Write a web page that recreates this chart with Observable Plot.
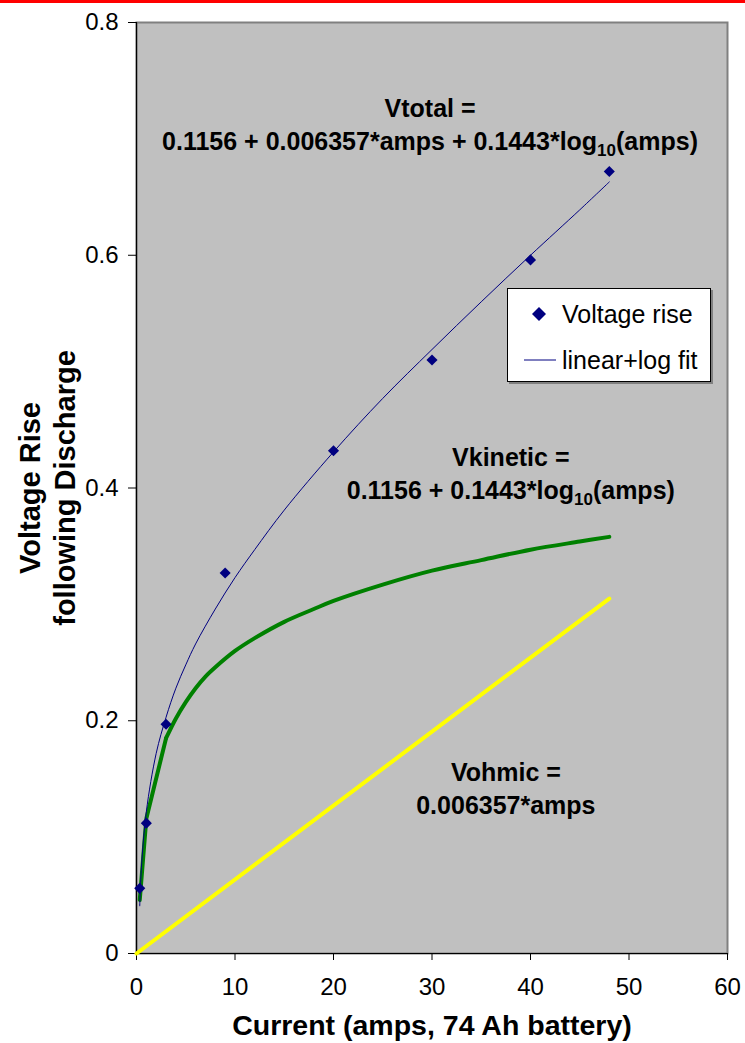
<!DOCTYPE html>
<html>
<head>
<meta charset="utf-8">
<script src="https://cdn.jsdelivr.net/npm/d3@7"></script>
<script src="https://cdn.jsdelivr.net/npm/@observablehq/plot@0.6"></script>
<style>
  html, body { margin: 0; padding: 0; background: white; }
  #wrap { position: relative; width: 745px; height: 1043px; font-family: Arial, "Liberation Sans", sans-serif; }
  #redline { position: absolute; left: 0; top: 0; width: 745px; height: 3px; background: #ff0000; }
  #legend { position: absolute; left: 507px; top: 288px; width: 202px; height: 92px; background: white;
            border: 1px solid #000; box-shadow: 2px 2px 0 #808080; }
</style>
</head>
<body>
<div id="wrap"><div id="redline"></div></div>
<script>
// Measured data points (Voltage rise)
const ampsMeasured = [0.33, 1, 3, 9, 20, 30, 40, 48];
const voltMeasured = [0.056, 0.112, 0.197, 0.327, 0.432, 0.510, 0.596, 0.672];

// linear+log fit curve
const ampsFit = [0.33, 0.5, 1, 2, 3, 4, 5, 6, 8, 10, 12, 15, 20, 25, 30, 35, 40, 45, 48];
const voltFit = [0.041, 0.074, 0.122, 0.172, 0.203, 0.228, 0.248, 0.266, 0.296, 0.323, 0.347, 0.381, 0.431, 0.477, 0.519, 0.560, 0.600, 0.639, 0.663];

// Vkinetic curve
const ampsKinetic = [0.33, 1, 3, 4, 5, 6, 7, 8, 10, 12, 15, 18, 20, 25, 30, 35, 40, 45, 48];
const voltKinetic = [0.046, 0.116, 0.185, 0.202, 0.216, 0.228, 0.238, 0.246, 0.260, 0.271, 0.285, 0.296, 0.303, 0.317, 0.329, 0.338, 0.347, 0.354, 0.358];

// Vohmic line
const ampsOhmic = [0, 48];
const voltOhmic = [0, 0.305];

// Ticks
const xTicks = [0, 10, 20, 30, 40, 50, 60];
const yTicks = [0, 0.2, 0.4, 0.6, 0.8];

// Labels
const xTitle = "Current (amps, 74 Ah battery)";
const yTitle = "Voltage Rise\nfollowing Discharge";
const annotationText = [
  "Vtotal =\n0.1156 + 0.006357*amps + 0.1443*log10(amps)",
  "Vkinetic =\n0.1156 + 0.1443*log10(amps)",
  "Vohmic =\n0.006357*amps"
];
const annotationX = [29.8, 38.0, 37.5];
const annotationY = [0.714, 0.414, 0.1435];
const legendLabels = ["Voltage rise", "linear+log fit"];

const zip = (xs, ys) => xs.map((x, i) => ({x, y: ys[i]}));
const measured = zip(ampsMeasured, voltMeasured);
const fit = zip(ampsFit, voltFit);
const kinetic = zip(ampsKinetic, voltKinetic);
const kineticLow = kinetic.filter(d => d.x <= 3);
const kineticHigh = kinetic.filter(d => d.x >= 3);
const ohmic = zip(ampsOhmic, voltOhmic);
const annotations = annotationText.map((t, i) => ({t, x: annotationX[i], y: annotationY[i]}));

const FONT = 'Arial, "Liberation Sans", sans-serif';

const chart = Plot.plot({
  width: 745,
  height: 1043,
  marginLeft: 136,
  marginRight: 18,
  marginTop: 22,
  marginBottom: 90,
  style: {fontFamily: FONT, background: "transparent", color: "black"},
  x: {domain: [0, 60]},
  y: {domain: [0, 0.8]},
  marks: [
    Plot.frame({fill: "#c0c0c0", stroke: "#808080", strokeWidth: 2}),
    Plot.axisX({ticks: xTicks, tickSize: 7, tickPadding: 17, fontSize: 24, label: null, tickFormat: d => String(d)}),
    Plot.axisY({ticks: yTicks, tickSize: 8, tickPadding: 10, fontSize: 24, label: null, tickFormat: d => String(d)}),
    Plot.ruleX([0], {stroke: "black", strokeWidth: 1.2}),
    Plot.ruleY([0], {stroke: "black", strokeWidth: 1.2}),
    Plot.line(ohmic, {x: "x", y: "y", stroke: "#ffff00", strokeWidth: 4}),
    Plot.line(kineticLow, {x: "x", y: "y", stroke: "#008000", strokeWidth: 4}),
    Plot.line(kineticHigh, {x: "x", y: "y", stroke: "#008000", strokeWidth: 4, curve: "catmull-rom"}),
    Plot.line(fit, {x: "x", y: "y", stroke: "#000080", strokeWidth: 1, curve: "catmull-rom"}),
    Plot.dot(measured, {x: "x", y: "y", symbol: "diamond2", r: 5, fill: "#000080", stroke: "none"}),
    Plot.text(annotations, {x: "x", y: "y", text: "t", fontSize: 25, fontWeight: "bold", fill: "black",
      lineAnchor: "middle", lineHeight: 1.33, textAnchor: "middle"}),
    Plot.text([xTitle], {frameAnchor: "bottom", dy: 72, fontSize: 28.5, fontWeight: "bold", fill: "black",
      lineAnchor: "middle", textAnchor: "middle"}),
    Plot.text([yTitle], {frameAnchor: "left", dx: -90, rotate: -90, fontSize: 29, fontWeight: "bold",
      fill: "black", lineHeight: 1.2, lineAnchor: "middle", textAnchor: "middle"})
  ]
});

// Subscript "10" in log10
const NS = "http://www.w3.org/2000/svg";
d3.select(chart).selectAll("text, tspan").each(function() {
  if (this.childElementCount === 0 && this.textContent.includes("log10(")) {
    const t = this.textContent;
    const i = t.indexOf("log10(");
    const before = t.slice(0, i + 3);
    const after = t.slice(i + 5);
    this.textContent = "";
    this.appendChild(document.createTextNode(before));
    const sub = document.createElementNS(NS, "tspan");
    sub.setAttribute("dy", "6");
    sub.setAttribute("font-size", "17");
    sub.textContent = "10";
    this.appendChild(sub);
    const rest = document.createElementNS(NS, "tspan");
    rest.setAttribute("dy", "-6");
    rest.textContent = after;
    this.appendChild(rest);
  }
});

const wrap = document.getElementById("wrap");
wrap.insertBefore(chart, wrap.firstChild);
chart.style.position = "absolute";
chart.style.left = "0";
chart.style.top = "0";

// Legend overlay
const legend = document.createElement("div");
legend.id = "legend";
legend.innerHTML = `<svg width="202" height="92" style="font-family:${FONT.replace(/"/g, "'")}">
  <path d="M31,18 L38,25 L31,32 L24,25 Z" fill="#000080"/>
  <text x="54" y="25" font-size="25" dominant-baseline="central">${legendLabels[0]}</text>
  <line x1="16" x2="48" y1="71" y2="71" stroke="#000080" stroke-width="1"/>
  <text x="54" y="71" font-size="25" dominant-baseline="central">${legendLabels[1]}</text>
</svg>`;
wrap.appendChild(legend);
</script>
</body>
</html>
